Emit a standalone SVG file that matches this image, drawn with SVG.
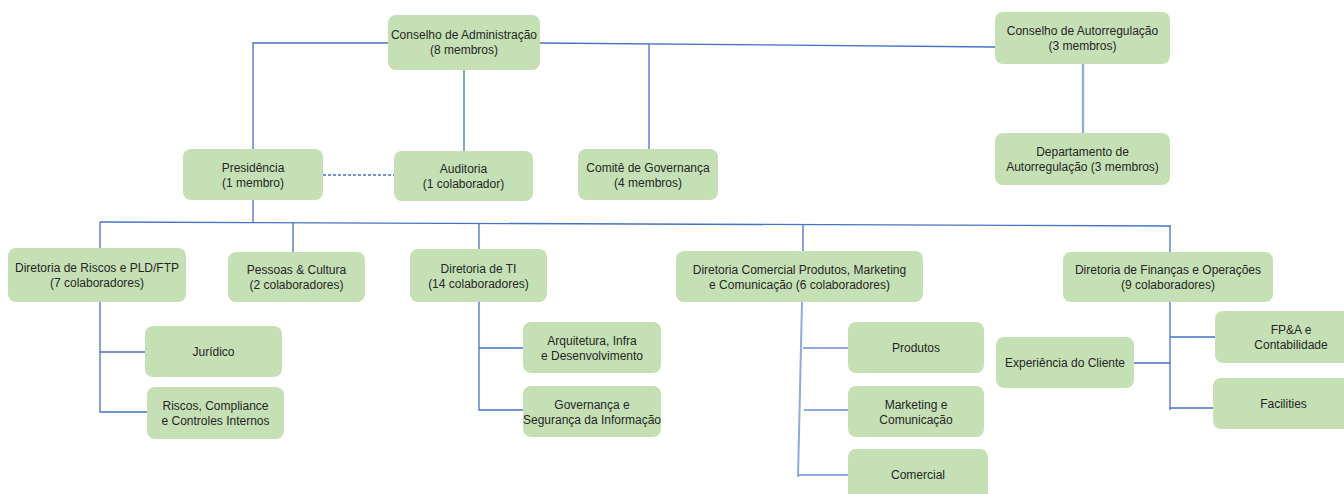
<svg xmlns="http://www.w3.org/2000/svg" width="1344" height="494" viewBox="0 0 1344 494">
<style>
.n rect{fill:#C5E0B4;stroke:none}
.n text{font-family:"Liberation Sans",Arial,sans-serif;font-size:12px;fill:#262626;text-anchor:middle}
.c{fill:none;stroke:#4472C4;stroke-width:1.3}
.l{fill:none;stroke:#8FAADC;stroke-width:2}
.d{fill:none;stroke:#4472C4;stroke-width:1.3;stroke-dasharray:3 2}
</style>
<rect width="1344" height="494" fill="#fff"/>
<g id="connectors">
<polyline class="c" points="388,43 253,43 253,149"/>
<line class="c" x1="540" y1="43" x2="995" y2="47"/>
<line class="c" x1="649" y1="44" x2="649" y2="149"/>
<line class="c" x1="464" y1="70" x2="464" y2="151"/>
<line class="l" x1="1083" y1="64" x2="1083" y2="133" style="stroke-width:2.4"/>
<line class="d" x1="323" y1="175" x2="394" y2="175"/>
<line class="c" x1="253" y1="200" x2="253" y2="222"/>
<line class="c" x1="100" y1="222" x2="1171" y2="226"/>
<line class="c" x1="100" y1="222" x2="100" y2="248"/>
<line class="c" x1="293" y1="223" x2="293" y2="252"/>
<line class="c" x1="479" y1="223" x2="479" y2="249"/>
<line class="c" x1="803" y1="224" x2="803" y2="251"/>
<line class="c" x1="1170" y1="226" x2="1170" y2="252"/>
<polyline class="c" points="100,302 100,412 147,412"/>
<line class="c" x1="100" y1="352" x2="145" y2="352"/>
<polyline class="c" points="479,302 479,410 523,410"/>
<line class="c" x1="479" y1="348" x2="523" y2="348"/>
<line class="l" x1="802" y1="302" x2="798" y2="477"/>
<line class="l" x1="803" y1="348" x2="849" y2="348"/>
<line class="l" x1="804" y1="410" x2="849" y2="410"/>
<line class="l" x1="797" y1="475" x2="849" y2="475"/>
<line class="c" x1="1170" y1="302" x2="1170" y2="410"/>
<line class="c" x1="1170" y1="337" x2="1215" y2="337"/>
<line class="c" x1="1134" y1="363" x2="1170" y2="363"/>
<line class="c" x1="1170" y1="408" x2="1213" y2="408"/>
</g>
<g id="ca" class="n"><rect x="388" y="15" width="152" height="55" rx="8"/><text x="464" y="39">Conselho de Administração</text><text x="464" y="54">(8 membros)</text></g>
<g id="car" class="n"><rect x="995" y="12" width="175" height="52" rx="8"/><text x="1082.5" y="34.5">Conselho de Autorregulação</text><text x="1082.5" y="49.5">(3 membros)</text></g>
<g id="dep" class="n"><rect x="995" y="133" width="175" height="52" rx="8"/><text x="1082.5" y="155.5">Departamento de</text><text x="1082.5" y="170.5">Autorregulação (3 membros)</text></g>
<g id="pres" class="n"><rect x="183" y="149" width="140" height="51" rx="8"/><text x="253" y="171.5">Presidência</text><text x="253" y="186.5">(1 membro)</text></g>
<g id="aud" class="n"><rect x="394" y="151" width="139" height="50" rx="8"/><text x="463.5" y="173">Auditoria</text><text x="463.5" y="188">(1 colaborador)</text></g>
<g id="com" class="n"><rect x="578" y="149" width="140" height="51" rx="8"/><text x="648" y="171.5">Comitê de Governança</text><text x="648" y="186.5">(4 membros)</text></g>
<g id="drisc" class="n"><rect x="8" y="248" width="178" height="54" rx="8"/><text x="97" y="272">Diretoria de Riscos e PLD/FTP</text><text x="97" y="287">(7 colaboradores)</text></g>
<g id="pess" class="n"><rect x="228" y="252" width="137" height="50" rx="8"/><text x="296.5" y="274">Pessoas &amp; Cultura</text><text x="296.5" y="289">(2 colaboradores)</text></g>
<g id="dti" class="n"><rect x="410" y="249" width="137" height="53" rx="8"/><text x="478.5" y="272.5">Diretoria de TI</text><text x="478.5" y="287.5">(14 colaboradores)</text></g>
<g id="dcom" class="n"><rect x="676" y="251" width="247" height="51" rx="8"/><text x="799.5" y="273.5">Diretoria Comercial Produtos, Marketing</text><text x="799.5" y="288.5">e Comunicação (6 colaboradores)</text></g>
<g id="dfin" class="n"><rect x="1063" y="252" width="210" height="50" rx="8"/><text x="1168" y="274">Diretoria de Finanças e Operações</text><text x="1168" y="289">(9 colaboradores)</text></g>
<g id="jur" class="n"><rect x="145" y="326" width="137" height="51" rx="8"/><text x="213.5" y="355.5">Jurídico</text></g>
<g id="risc" class="n"><rect x="147" y="387" width="137" height="52" rx="8"/><text x="215.5" y="409.5">Riscos, Compliance</text><text x="215.5" y="424.5">e Controles Internos</text></g>
<g id="arq" class="n"><rect x="523" y="322" width="138" height="51" rx="8"/><text x="592" y="344.5">Arquitetura, Infra</text><text x="592" y="359.5">e Desenvolvimento</text></g>
<g id="gov" class="n"><rect x="523" y="386" width="138" height="51" rx="8"/><text x="592" y="408.5">Governança e</text><text x="592" y="423.5">Segurança da Informação</text></g>
<g id="prod" class="n"><rect x="848" y="322" width="136" height="51" rx="8"/><text x="916" y="351.5">Produtos</text></g>
<g id="mkt" class="n"><rect x="848" y="386" width="136" height="51" rx="8"/><text x="916" y="408.5">Marketing e</text><text x="916" y="423.5">Comunicação</text></g>
<g id="coml" class="n"><rect x="848" y="449" width="140" height="60" rx="8"/><text x="918" y="479">Comercial</text></g>
<g id="exp" class="n"><rect x="996" y="337" width="138" height="51" rx="8"/><text x="1065" y="366.5">Experiência do Cliente</text></g>
<g id="fpa" class="n"><rect x="1215" y="311" width="152" height="52" rx="8"/><text x="1291" y="333.5">FP&amp;A e</text><text x="1291" y="348.5">Contabilidade</text></g>
<g id="fac" class="n"><rect x="1213" y="378" width="141" height="51" rx="8"/><text x="1283.5" y="407.5">Facilities</text></g>
</svg>
